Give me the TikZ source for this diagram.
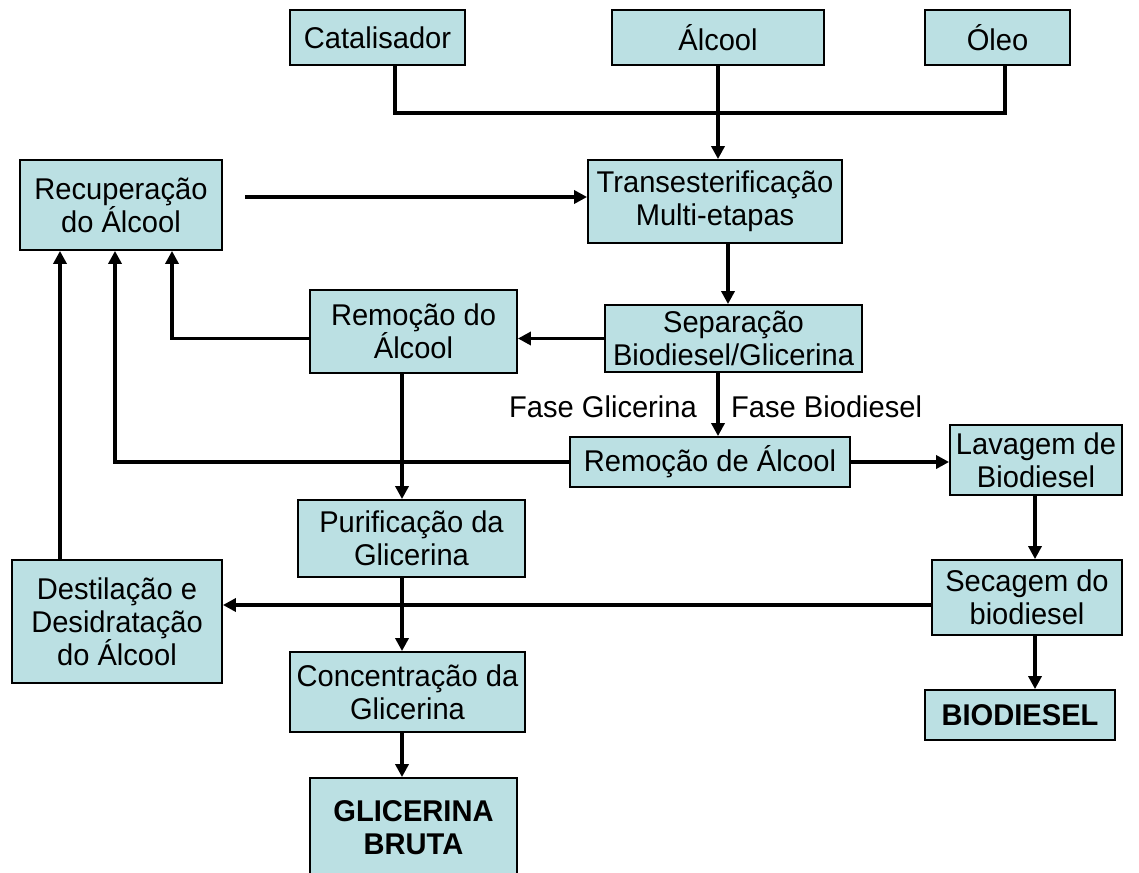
\documentclass[tikz,border=0pt]{standalone}
\usepackage{fontspec}
\setmainfont[FakeStretch=0.97]{Liberation Sans}
\usetikzlibrary{arrows.meta}
\definecolor{boxfill}{RGB}{187,224,227}
\tikzset{
  box/.style={draw, line width=1.8pt, fill=boxfill, align=center, inner sep=0pt, font=\fontsize{30}{33}\selectfont},
  boldbox/.style={box, font=\fontsize{30}{33}\selectfont\bfseries},
  lbl/.style={inner sep=0pt, font=\fontsize{30}{33}\selectfont},
  pipe/.style={line width=3.6pt},
  flow/.style={line width=3.6pt, -{Triangle[length=13pt,width=13pt]}},
}

\begin{document}
\begin{tikzpicture}[x=1pt,y=-1pt]
    \useasboundingbox (0,0) rectangle (1139,872);
    \clip (0,0) rectangle (1139,872);
    % inputs
    \node[box, minimum width=175pt, minimum height=55pt] (cat) at (377.5,37.5) {Catalisador};
    \node[box, minimum width=212pt, minimum height=55pt] (alc) at (718,37.5) {Álcool};
    \node[box, minimum width=145pt, minimum height=55pt] (oleo) at (997.5,37.5) {Óleo};
    % main line
    \node[box, minimum width=254pt, minimum height=83pt] (trans) at (715,201.5) {Transesterificação\\Multi-etapas};
    \node[box, minimum width=257pt, minimum height=67pt] (sep) at (733.5,338.5) {Separação\\Biodiesel/Glicerina};
    \node[box, minimum width=280pt, minimum height=50pt] (remB) at (710,462) {Remoção de Álcool};
    \node[box, minimum width=172pt, minimum height=70pt] (lav) at (1036,460) {Lavagem de\\Biodiesel};
    \node[box, minimum width=190pt, minimum height=75pt] (sec) at (1027,597.5) {Secagem do\\biodiesel};
    \node[boldbox, minimum width=190pt, minimum height=50pt] (bio) at (1020,715) {BIODIESEL};
    % glicerina
    \node[box, minimum width=207pt, minimum height=83pt] (remA) at (413.5,331.5) {Remoção do\\Álcool};
    \node[box, minimum width=227pt, minimum height=77pt] (puri) at (411.5,538.5) {Purificação da\\Glicerina};
    \node[box, minimum width=235pt, minimum height=80pt] (conc) at (407.5,692) {Concentração da\\Glicerina};
    \node[boldbox, minimum width=207pt, minimum height=100pt] (bruta) at (413.5,828) {GLICERINA\\BRUTA};
    % alcool
    \node[box, minimum width=202pt, minimum height=90pt] (recup) at (121,205) {Recuperação\\do Álcool};
    \node[box, minimum width=210pt, minimum height=123pt] (dest) at (117,621.5) {Destilação e\\Desidratação\\do Álcool};
    % phase labels
    \node[lbl, anchor=east] (fgli) at (697,407) {Fase Glicerina};
    \node[lbl, anchor=west] (fbio) at (731,407) {Fase Biodiesel};

    \coordinate (mix) at (718,113);
    \coordinate (rin) at (245,197);
    \coordinate (x60) at (60,0);
    \coordinate (x115) at (115,0);
    \coordinate (x172) at (172,0);
    \coordinate (x402) at (402,0);
    \coordinate (x1035) at (1035,0);
    \coordinate (y605) at (0,605);

    \draw[pipe] ([xshift=17.5pt]cat.south) |- (mix) -| ([xshift=7.5pt]oleo.south);
    \draw[flow] (alc.south) -- (alc.south |- trans.north);
    \draw[flow] (rin) -- (rin -| trans.west);
    \draw[flow] ([xshift=13pt]trans.south) -- ([xshift=13pt]trans.south |- sep.north);
    \draw[flow] (sep.west) -- (sep.west -| remA.east);
    \draw[flow] (remA.west |- sep.west) -| (x172 |- recup.south);
    \draw[flow] ([xshift=-15.5pt]sep.south) -- ([xshift=-15.5pt]sep.south |- remB.north);
    \draw[flow] (remB.west) -| (x115 |- recup.south);
    \draw[flow] (remB.east) -- (remB.east -| lav.west);
    \draw[flow] (x402 |- remA.south) -- (x402 |- puri.north);
    \draw[flow] (x402 |- puri.south) -- (x402 |- conc.north);
    \draw[flow] (x402 |- conc.south) -- (x402 |- bruta.north);
    \draw[flow] (x1035 |- lav.south) -- (x1035 |- sec.north);
    \draw[flow] (x1035 |- sec.south) -- (x1035 |- bio.north);
    \draw[flow] (sec.west |- y605) -- (dest.east |- y605);
    \draw[flow] (x60 |- dest.north) -- (x60 |- recup.south);
\end{tikzpicture}
\end{document}
